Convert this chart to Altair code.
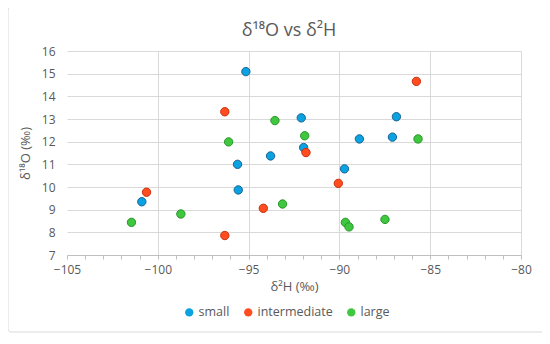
import altair as alt
import pandas as pd

small_h = [-95.15, -93.79, -95.61, -95.57, -100.88, -92.10, -86.86, -88.90, -87.08, -91.97, -89.72]
small_o = [15.09, 11.37, 11.00, 9.87, 9.35, 13.05, 13.10, 12.12, 12.20, 11.74, 10.80]
inter_h = [-96.31, -100.62, -94.19, -96.31, -85.76, -91.84, -90.06]
inter_o = [13.32, 9.77, 9.06, 7.86, 14.66, 11.52, 10.16]
large_h = [-93.55, -96.10, -93.13, -98.73, -101.45, -91.91, -85.67, -89.67, -89.47, -87.49]
large_o = [12.93, 11.99, 9.25, 8.81, 8.44, 12.26, 12.12, 8.44, 8.24, 8.57]

groups = ["small", "intermediate", "large"]
fills = ["#0aa2e0", "#ff4d1f", "#3fc83f"]
strokes = ["#1b6394", "#c8300e", "#2a952a"]

x_ticks = list(range(-105, -79))
y_ticks = list(range(7, 17))

rows = []
for g, hs, os_ in zip(groups, [small_h, inter_h, large_h], [small_o, inter_o, large_o]):
    for h, o in zip(hs, os_):
        rows.append({"H": h, "O": o, "size class": g})
df = pd.DataFrame(rows)

FONT = "Open Sans"
GRAY = "#595959"

points = alt.Chart(df).mark_point(filled=True, size=70, strokeWidth=1, opacity=1).encode(
    x=alt.X("H:Q", scale=alt.Scale(domain=[-105, -80], nice=False),
            axis=alt.Axis(values=x_ticks, title="δ²H (‰)",
                          labelExpr="datum.value % 5 === 0 ? datum.label : ''",
                          labelOverlap=False, labelFlush=False,
                          gridOpacity={"condition": {"test": "datum.value % 5 === 0 && datum.value > -105", "value": 1}, "value": 0},
                          tickSize=4, tickColor="#bfbfbf", domainColor="#bfbfbf",
                          labelPadding=5, titlePadding=5)),
    y=alt.Y("O:Q", scale=alt.Scale(domain=[7, 16], nice=False),
            axis=alt.Axis(values=y_ticks, title="δ¹⁸O (‰)", ticks=False, domain=False,
                          labelPadding=12, titlePadding=9)),
    color=alt.Color("size class:N", scale=alt.Scale(domain=groups, range=fills),
                    legend=alt.Legend(orient="none", legendX=116, legendY=255,
                                      direction="horizontal", title=None,
                                      symbolType="circle", symbolSize=70, labelFontSize=12.5,
                                      labelColor=GRAY, labelFont=FONT, columnPadding=12,
                                      labelOffset=3, symbolStrokeWidth=0)),
    stroke=alt.Stroke("size class:N", scale=alt.Scale(domain=groups, range=strokes), legend=None),
)

frame = alt.Chart(pd.DataFrame({"a": [0]})).mark_rect(
    fill=None, stroke="#d9d9d9", strokeWidth=1, cornerRadius=3
).encode(x=alt.value(-59), x2=alt.value(477), y=alt.value(-44), y2=alt.value(281))

chart = alt.layer(frame, points).properties(
    width=454, height=204,
    autosize=alt.AutoSizeParams(type="none"),
    padding={"left": 59, "top": 43, "right": 21, "bottom": 81},
    title=alt.TitleParams("δ¹⁸O vs δ²H", fontSize=18, font=FONT, fontWeight="normal",
                          color=GRAY, anchor="middle", frame="group", dx=-5, offset=-33),
).configure_view(stroke=None).configure_axis(
    labelFont=FONT, titleFont=FONT, labelColor=GRAY, titleColor=GRAY,
    labelFontSize=12, titleFontSize=13, titleFontWeight="normal",
    gridColor="#d9d9d9", gridWidth=1,
)

chart.save("out.html", embed_options={"renderer": "svg", "actions": False})
